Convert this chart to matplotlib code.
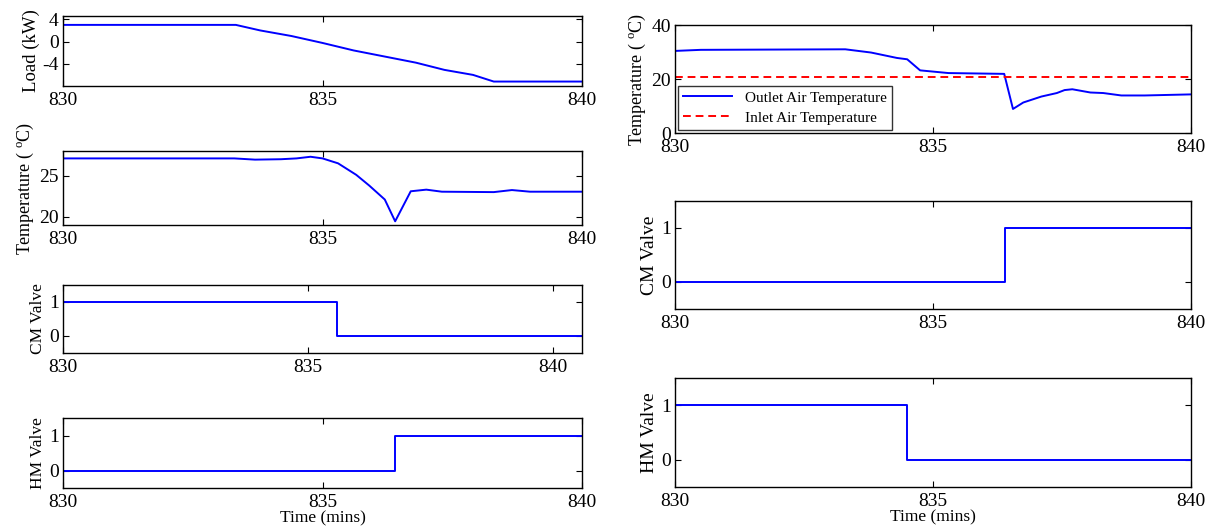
import matplotlib
matplotlib.use("Agg")
import matplotlib.pyplot as plt

plt.rcParams['font.family'] = ['Liberation Serif', 'DejaVu Serif']
plt.rcParams['mathtext.fontset'] = 'custom'
plt.rcParams['mathtext.rm'] = 'Liberation Serif'
plt.rcParams['mathtext.it'] = 'Liberation Serif:italic'
plt.rcParams['axes.unicode_minus'] = False

# ---------------- data ----------------
load_t = [830.0, 833.33, 833.8, 834.4, 835.0, 835.6, 836.2, 836.8, 837.35, 837.9, 838.3, 840.0]
load_kw = [3.0, 3.0, 2.0, 1.0, -0.25, -1.6, -2.7, -3.8, -5.1, -6.0, -7.2, -7.2]

zt_t = [830.0, 833.3, 833.7, 834.2, 834.5, 834.77, 835.0, 835.3, 835.65, 835.9, 836.2, 836.4,
        836.7, 837.0, 837.3, 838.3, 838.65, 839.0, 840.0]
zt_temp = [27.1, 27.1, 26.95, 27.0, 27.1, 27.3, 27.1, 26.5, 25.1, 23.8, 22.1, 19.45,
           23.1, 23.3, 23.05, 23.0, 23.25, 23.05, 23.05]

left_cm_t = [830.0, 835.6, 840.6]
left_cm_v = [1, 0, 0]
left_hm_t = [830.0, 836.4, 840.0]
left_hm_v = [0, 1, 1]

out_t = [830.0, 830.5, 833.3, 833.8, 834.3, 834.5, 834.75, 835.3, 836.38, 836.55, 836.75,
         837.1, 837.4, 837.55, 837.7, 838.05, 838.3, 838.65, 839.1, 840.0]
out_temp = [30.4, 30.8, 31.0, 29.8, 27.8, 27.3, 23.2, 22.2, 21.9, 8.9, 11.3,
            13.5, 14.8, 15.9, 16.2, 15.0, 14.8, 13.9, 13.9, 14.3]
inlet_t = [830.0, 840.0]
inlet_temp = [20.6, 20.6]

right_cm_t = [830.0, 836.4, 840.0]
right_cm_v = [0, 1, 1]
right_hm_t = [830.0, 834.5, 840.0]
right_hm_v = [1, 0, 0]

xticks = [830, 835, 840]

BLUE = (0, 0, 1)
RED = (1, 0, 0)

W, H = 1211, 529
fig = plt.figure(figsize=(W / 100, H / 100), dpi=100)


def box(x0, x1, y0, y1):
    return [x0 / W, 1 - y1 / H, (x1 - x0) / W, (y1 - y0) / H]


def style(ax, ylabel, ysize=12):
    ax.tick_params(direction='in', top=True, right=True, length=4, width=0.8,
                   labelsize=14, pad=4, colors='black')
    ax.tick_params(axis='y', pad=3)
    for s in ax.spines.values():
        s.set_linewidth(1.0)
        s.set_color('black')
    ax.set_xticks(xticks)
    ax.set_ylabel(ylabel, fontsize=ysize, labelpad=2)


# left column
ax1 = fig.add_axes(box(63, 582, 16, 86))
ax1.plot(load_t, load_kw, color=BLUE, lw=1.4)
ax1.set_xlim(830, 840)
ax1.set_ylim(-8, 4.6)
ax1.set_yticks([-4, 0, 4])
style(ax1, 'Load (kW)', 13.5)

ax2 = fig.add_axes(box(63, 582, 151, 225))
ax2.plot(zt_t, zt_temp, color=BLUE, lw=1.4)
ax2.set_xlim(830, 840)
ax2.set_ylim(19, 28)
ax2.set_yticks([20, 25])
style(ax2, r'Temperature ( $^{\mathrm{o}}$C)', 13)

ax3 = fig.add_axes(box(63, 582, 285, 353))
ax3.step(left_cm_t, left_cm_v, where='post', color=BLUE, lw=1.4)
ax3.set_xlim(830, 840.6)
ax3.set_ylim(-0.5, 1.5)
ax3.set_yticks([0, 1])
style(ax3, 'CM Valve', 12.5)

ax4 = fig.add_axes(box(63, 582, 418, 488))
ax4.step(left_hm_t, left_hm_v, where='post', color=BLUE, lw=1.4)
ax4.set_xlim(830, 840)
ax4.set_ylim(-0.5, 1.5)
ax4.set_yticks([0, 1])
style(ax4, 'HM Valve', 12.5)
ax4.set_xlabel('Time (mins)', fontsize=12.5, labelpad=0)

# right column
ax5 = fig.add_axes(box(675, 1191, 25, 133))
ax5.plot(out_t, out_temp, color=BLUE, lw=1.4, label='Outlet Air Temperature')
ax5.plot(inlet_t, inlet_temp, color=RED, lw=1.4, ls='--', dashes=(4, 2.5),
         label='Inlet Air Temperature')
ax5.set_xlim(830, 840)
ax5.set_ylim(0, 40)
ax5.set_yticks([0, 20, 40])
style(ax5, r'Temperature ( $^{\mathrm{o}}$C)', ysize=13)
leg = ax5.legend(loc='lower left', fontsize=11, frameon=True, fancybox=False,
                 edgecolor='black', borderaxespad=0.2, handlelength=3.2,
                 borderpad=0.35, labelspacing=0.4)
leg.get_frame().set_linewidth(1.0)

ax6 = fig.add_axes(box(675, 1191, 201, 309))
ax6.step(right_cm_t, right_cm_v, where='post', color=BLUE, lw=1.4)
ax6.set_xlim(830, 840)
ax6.set_ylim(-0.5, 1.5)
ax6.set_yticks([0, 1])
style(ax6, 'CM Valve', 14)

ax7 = fig.add_axes(box(675, 1191, 378, 487))
ax7.step(right_hm_t, right_hm_v, where='post', color=BLUE, lw=1.4)
ax7.set_xlim(830, 840)
ax7.set_ylim(-0.5, 1.5)
ax7.set_yticks([0, 1])
style(ax7, 'HM Valve', 14)
ax7.set_xlabel('Time (mins)', fontsize=12.5, labelpad=0)

fig.savefig('out.png', dpi=100)
